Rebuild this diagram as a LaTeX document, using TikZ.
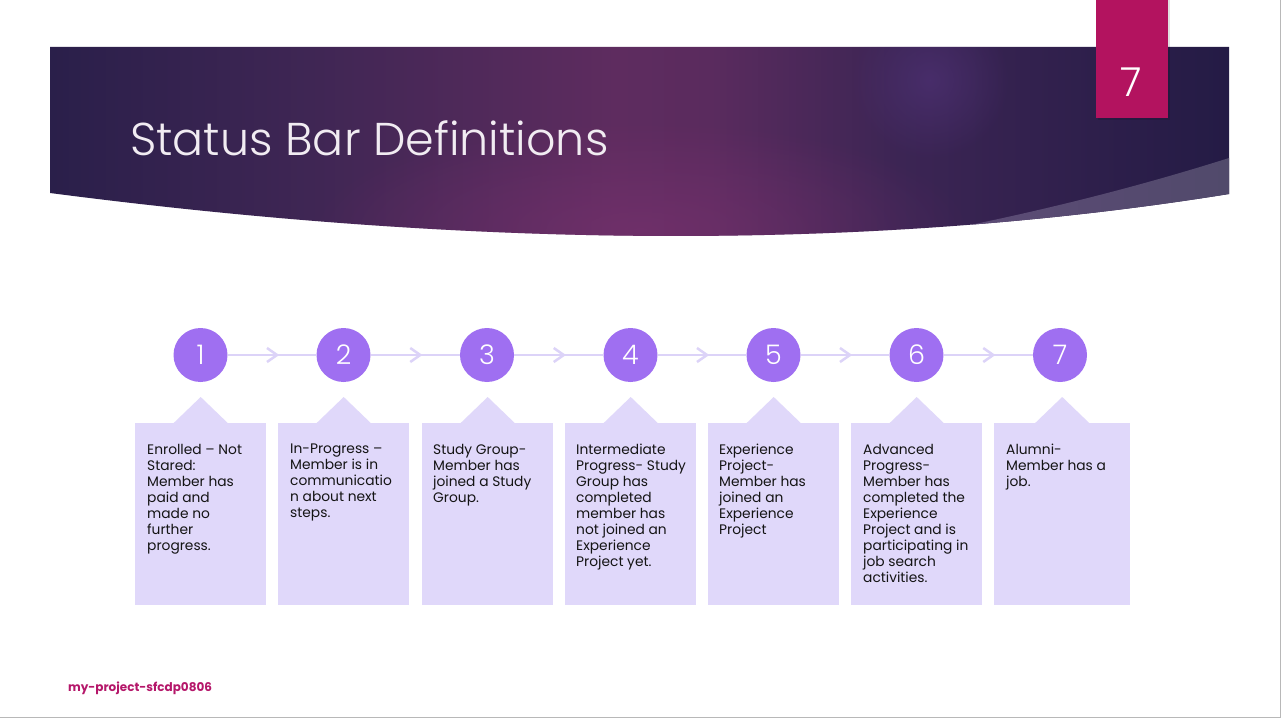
\documentclass[tikz,border=0pt]{standalone}
\usepackage{fontspec}
\setmainfont{Poppins}
\IfFontExistsTF{Poppins Light}{\newfontfamily\lightfont{Poppins Light}}{\newfontfamily\lightfont{Poppins}}
\usetikzlibrary{fadings}
\definecolor{bnA}{HTML}{2A1F4A}
\definecolor{bnB}{HTML}{3F2654}
\definecolor{bnC}{HTML}{5E2C5F}
\definecolor{bnC2}{HTML}{5A2B5E}
\definecolor{bnD}{HTML}{3C2554}
\definecolor{bnE}{HTML}{241B45}
\definecolor{glowA}{HTML}{4E3174}
\definecolor{glowB}{HTML}{7A3270}
\definecolor{wedgeA}{HTML}{5E4B78}
\definecolor{wedgeB}{HTML}{514A6B}
\definecolor{pinkc}{HTML}{B3135F}
\definecolor{circc}{HTML}{9F6FF1}
\definecolor{connc}{HTML}{DCD3F8}
\definecolor{boxc}{HTML}{E0D8FA}
\definecolor{textc}{HTML}{141414}
\definecolor{footc}{HTML}{B5176A}
\definecolor{titlec}{HTML}{F1ECF2}
\pgfdeclarehorizontalshading{bannershade}{100bp}{color(0bp)=(bnA); color(25bp)=(bnA); color(36bp)=(bnB); color(49bp)=(bnC); color(53bp)=(bnC2); color(61bp)=(bnD); color(75bp)=(bnE); color(100bp)=(bnE)}
\pgfdeclarehorizontalshading{wedgeshade}{100bp}{color(0bp)=(wedgeA); color(25bp)=(wedgeA); color(75bp)=(wedgeB); color(100bp)=(wedgeB)}
\tikzfading[name=softglow, inner color=transparent!0, outer color=transparent!100]
\tikzset{
  stepcircle/.style={circle, fill=circc, minimum size=54pt, inner sep=0pt, text=white, font=\lightfont\fontsize{27}{27}\selectfont},
  conn/.style={draw=connc, line width=2.5pt},
  chev/.style={draw=connc, line width=2.5pt, line join=miter},
  defbox/.style={rectangle, fill=boxc, minimum height=182pt, inner sep=0pt, anchor=north west},
  deftext/.style={align=left, inner sep=0pt, anchor=north west, text=textc, font=\fontsize{13.8}{16}\selectfont},
}
\begin{document}
\begin{tikzpicture}[x=1pt,y=-1pt]
\useasboundingbox (0,0) rectangle (1282,719);
\fill[white] (0,0) rectangle (1282,719);
% banner
\def\bannerpath{(50,47) -- (1229,47) -- (1229,194) .. controls (850,255) and (450,245) .. (50,193) -- cycle}
\path[shading=bannershade] \bannerpath;
\begin{scope}
  \clip \bannerpath;
  \fill[glowB, path fading=softglow, opacity=0.6] (640,230) ellipse (330 and 110);
  \fill[glowA, path fading=softglow, opacity=0.7] (930,80) circle (80);
  \path[shading=wedgeshade] (1229,158) .. controls (1150,183) and (1050,210) .. (925,234) -- (925,300) -- (1229,300) -- cycle;
\end{scope}
\node[anchor=base west, inner sep=0pt, text=titlec, font=\lightfont\fontsize{46}{46}\selectfont] (title) at (130,156) {Status Bar Definitions};
% page number box
\fill[black, opacity=0.12] (1097.5,0) rectangle (1170,120);
\node[rectangle, fill=pinkc, anchor=north west, minimum width=72pt, minimum height=118pt, inner sep=0pt] (pg) at (1096,0) {};
\node[text=white, font=\lightfont\fontsize{40}{40}\selectfont, inner sep=0pt] (pgnum) at (1131,82) {7};
% boxes
\node[defbox, minimum width=131pt] (b1) at (135,423) {};
\node[defbox, minimum width=131pt] (b2) at (278,423) {};
\node[defbox, minimum width=131pt] (b3) at (422,423) {};
\node[defbox, minimum width=131pt] (b4) at (565,423) {};
\node[defbox, minimum width=131pt] (b5) at (708,423) {};
\node[defbox, minimum width=131pt] (b6) at (851,423) {};
\node[defbox, minimum width=136pt] (b7) at (994,423) {};
\foreach \b in {b1,b2,b3,b4,b5,b6,b7}{
  \fill[boxc] ([xshift=-27pt]\b.north) -- ([yshift=26pt]\b.north) -- ([xshift=27pt]\b.north) -- cycle;
}
% circles
\node[stepcircle] (c1) at (200.5,355) {1};
\node[stepcircle] (c2) at (343.5,355) {2};
\node[stepcircle] (c3) at (487,355) {3};
\node[stepcircle] (c4) at (630.5,355) {4};
\node[stepcircle] (c5) at (773.5,355) {5};
\node[stepcircle] (c6) at (916.5,355) {6};
\node[stepcircle] (c7) at (1060,355) {7};
\foreach \a/\b in {c1/c2,c2/c3,c3/c4,c4/c5,c5/c6,c6/c7}{
  \draw[conn] (\a) -- (\b);
  \path (\a) -- (\b) coordinate[pos=0.5] (m\a);
  \draw[chev] ([xshift=-5pt,yshift=-7pt]m\a) -- ([xshift=5pt]m\a) -- ([xshift=-5pt,yshift=7pt]m\a);
}
% texts
\node[deftext] (t1) at ([xshift=12pt,yshift=-21pt]b1.north west) {Enrolled – Not\\Stared:\\Member has\\paid and\\made no\\further\\progress.};
\node[deftext] (t2) at ([xshift=12pt,yshift=-21pt]b2.north west) {In-Progress –\\Member is in\\communicatio\\n about next\\steps.};
\node[deftext] (t3) at ([xshift=11pt,yshift=-21pt]b3.north west) {Study Group-\\Member has\\joined a Study\\Group.};
\node[deftext] (t4) at ([xshift=11pt,yshift=-21pt]b4.north west) {Intermediate\\Progress- Study\\Group has\\completed\\member has\\not joined an\\Experience\\Project yet.};
\node[deftext] (t5) at ([xshift=11pt,yshift=-21pt]b5.north west) {Experience\\Project-\\Member has\\joined an\\Experience\\Project};
\node[deftext] (t6) at ([xshift=12pt,yshift=-21pt]b6.north west) {Advanced\\Progress-\\Member has\\completed the\\Experience\\Project and is\\participating in\\job search\\activities.};
\node[deftext] (t7) at ([xshift=12pt,yshift=-21pt]b7.north west) {Alumni-\\Member has a\\job.};
% footer
\node[anchor=base west, inner sep=0pt, text=footc, font=\bfseries\fontsize{12}{12}\selectfont] (foot) at (68,691) {my-project-sfcdp0806};
% slide border
\draw[black!28, line width=1pt] (1280.5,0) -- (1280.5,717.5) -- (0,717.5);
\end{tikzpicture}
\end{document}
